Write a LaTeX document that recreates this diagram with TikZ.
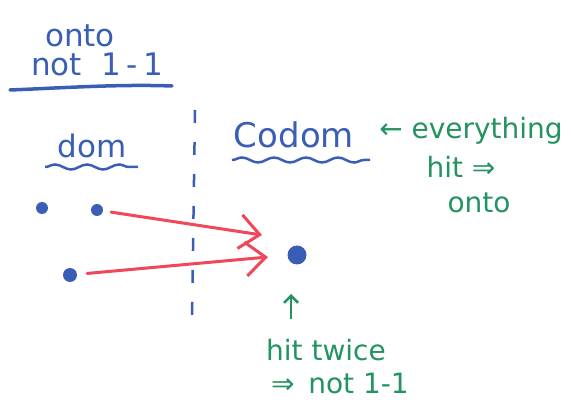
\documentclass[tikz,border=0pt]{standalone}
\usepackage{fontspec}
\setmainfont{DejaVu Sans}
\usetikzlibrary{arrows.meta,decorations.pathmorphing}
\definecolor{pen}{HTML}{3A5DB5}
\definecolor{grn}{HTML}{23935F}
\definecolor{rd}{HTML}{F0475A}
\begin{document}
\begin{tikzpicture}[x=1pt,y=-1pt,
  bluetxt/.style={text=pen,font=\fontsize{31}{33}\selectfont,inner sep=0pt},
  greentxt/.style={text=grn,font=\fontsize{28}{30}\selectfont,inner sep=0pt},
  pdot/.style={circle,fill=pen,inner sep=0pt,minimum size=#1},
  redarrow/.style={draw=rd,line width=3pt,line cap=round,-{Straight Barb[length=20pt,width=34pt,line width=3pt]}},
  wavy/.style={draw=pen,line width=2.5pt,decorate,decoration={snake,amplitude=2.5pt,segment length=32pt}},
  divider/.style={draw=pen,line width=2.5pt,dash pattern=on 13pt off 19pt},
  greenarrow/.style={draw=grn,line width=2.5pt,-{Straight Barb[length=7pt,width=14pt,line width=2.5pt]}}
]
\useasboundingbox (0,0) rectangle (571,414);

% titles
\node[bluetxt] (onto) at (80,36) {onto};
\node[bluetxt] (not11) at (97,64) {not\,\, 1\,-\,1};
\draw[draw=pen,line width=3.5pt,line cap=round] (10,90) .. controls (60,88) and (120,84) .. (172,86);

% divider
\coordinate (divtop) at (195,110);
\coordinate (divbot) at (192,320);
\draw[divider] (divtop) -- (divbot);

% headings
\node[bluetxt] (dom) at (92,146) {dom};
\node[bluetxt,font=\fontsize{34}{36}\selectfont] (codom) at (294,135) {Codom};
\draw[wavy] (45,167) -- (138,167);
\draw[wavy] (232,160) -- (370,160);

% dots
\node[pdot=12pt] (d1) at (42,208) {};
\node[pdot=12pt] (d2) at (97,210) {};
\node[pdot=14pt] (d3) at (70,275) {};
\node[pdot=19pt] (c1) at (297,255) {};

% arrows
\coordinate (t1) at (262,235);
\coordinate (t2) at (268,257);
\draw[redarrow,shorten <=8pt] (d2) -- (t1);
\draw[redarrow,shorten <=10pt] (d3) -- (t2);

% green notes
\node[greentxt] (every) at (471,131) {← everything};
\node[greentxt] (hit) at (461,167) {hit ⇒};
\node[greentxt] (onto2) at (479,203) {onto};

\node[greentxt] (twice) at (326,350) {hit twice};
\node[greentxt] (not2) at (340,383) {⇒\, not 1-1};
\coordinate (up) at (291,294);
\draw[greenarrow] (291,319) -- (up);
\end{tikzpicture}
\end{document}
